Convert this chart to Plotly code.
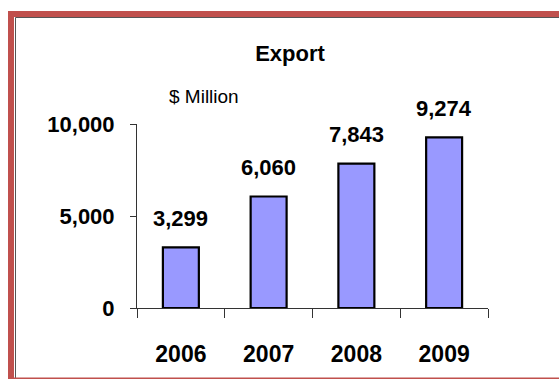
import plotly.graph_objects as go

# Export values, $ million
years = ["2006", "2007", "2008", "2009"]
exports = [3299, 6060, 7843, 9274]
y_ticks = [0, 5000, 10000]
y_tick_labels = ["0", "5,000", "10,000"]

W, H = 559, 379
L, R, T, B = 137, 71, 124, 71
PW, PH = W - L - R, H - T - B

FONT = "Liberation Sans, Arial, sans-serif"


def px_x(px):
    """Page pixel x -> paper x."""
    return (px - L) / PW


def px_y(py):
    """Page pixel y -> paper y."""
    return (H - B - py) / PH


fig = go.Figure(
    go.Bar(
        x=years,
        y=exports,
        width=0.41,
        marker=dict(color="#9999FF", line=dict(color="black", width=2.2)),
        hoverinfo="x+y",
    )
)

# value labels above the bars (category index used as x position)
for i, v in enumerate(exports):
    fig.add_annotation(
        x=i, y=v, xref="x", yref="y", text=f"{v:,}", showarrow=False,
        yanchor="middle", yshift=29,
        font=dict(family=FONT, size=22, color="black", weight="bold"),
    )

fig.add_annotation(
    xref="paper", yref="paper", x=px_x(204), y=px_y(96),
    text="$ Million", showarrow=False, xanchor="center", yanchor="middle",
    font=dict(family=FONT, size=19, color="black"),
)

# frame: red outer border with thin dark inner rule on top and left
fig.add_shape(
    type="rect", xref="paper", yref="paper",
    x0=px_x(11), x1=px_x(600), y0=px_y(14), y1=px_y(380.5),
    line=dict(color="#C0504D", width=6), fillcolor="rgba(0,0,0,0)", layer="above",
)
fig.add_shape(
    type="rect", xref="paper", yref="paper",
    x0=px_x(15.5), x1=px_x(600), y0=px_y(17.5), y1=px_y(395),
    line=dict(color="#555555", width=1), fillcolor="rgba(0,0,0,0)", layer="below",
)

fig.update_layout(
    width=W, height=H,
    margin=dict(l=L, r=R, t=T, b=B),
    paper_bgcolor="white", plot_bgcolor="white",
    showlegend=False,
    title=dict(
        text="Export", xref="container", yref="container",
        x=290 / W, y=1 - 53 / H, xanchor="center", yanchor="middle",
        font=dict(family=FONT, size=22, color="black", weight="bold"),
    ),
    xaxis=dict(
        type="category", categoryorder="array", categoryarray=years,
        range=[-0.5, 3.5], automargin=False, tickangle=0,
        tickson="boundaries", ticks="outside", ticklen=9,
        tickcolor="#333333", tickwidth=1,
        showline=True, linecolor="#333333", linewidth=1,
        showgrid=False, zeroline=False,
        tickfont=dict(family=FONT, size=23, color="black", weight="bold"),
        ticklabelstandoff=25,
    ),
    yaxis=dict(
        range=[0, 10000], tickvals=y_ticks, ticktext=y_tick_labels,
        automargin=False,
        ticks="outside", ticklen=6, tickcolor="#333333", tickwidth=1,
        showline=True, linecolor="#333333", linewidth=1,
        showgrid=False, zeroline=False,
        tickfont=dict(family=FONT, size=22, color="black", weight="bold"),
        ticklabelstandoff=11,
    ),
)

fig.write_html("out.html")
